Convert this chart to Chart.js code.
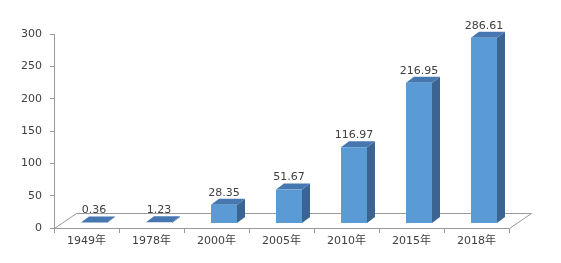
<!DOCTYPE html>
<html>
<head>
<meta charset="utf-8">
<script src="https://cdn.jsdelivr.net/npm/chart.js@4/dist/chart.umd.min.js"></script>
<style>
  html, body { margin: 0; padding: 0; background: #fff; }
  #wrap { width: 561px; height: 263px; }
</style>
</head>
<body>
<div id="wrap"><canvas id="chart" width="561" height="263"></canvas></div>
<script>
// dados
const years = ['1949年', '1978年', '2000年', '2005年', '2010年', '2015年', '2018年'];
const values = [0.36, 1.23, 28.35, 51.67, 116.97, 216.95, 286.61];
const yTicks = [0, 50, 100, 150, 200, 250, 300];

const FONT = '"DejaVu Sans", "Noto Sans CJK SC", sans-serif';
const TEXT = '#404040';
const LINE = '#9a9a9a';

// cores da barra 3D
const FRONT = '#5b9bd5';
const TOP = '#4677b0';
const SIDE = '#3b6591';

// deslocamentos de profundidade (pseudo 3D)
const FLOOR = { dx: 22, dy: -15 };
const BAR_OFF = { dx: 7, dy: -5 };
const BAR_DEPTH = { dx: 8, dy: -6 };

function poly(ctx, pts, fill, stroke) {
  ctx.beginPath();
  ctx.moveTo(pts[0][0], pts[0][1]);
  for (let i = 1; i < pts.length; i++) ctx.lineTo(pts[i][0], pts[i][1]);
  ctx.closePath();
  if (fill) { ctx.fillStyle = fill; ctx.fill(); }
  if (stroke) { ctx.strokeStyle = stroke; ctx.lineWidth = 1; ctx.stroke(); }
}

const bars3d = {
  id: 'bars3d',
  beforeDatasetsDraw(chart) {
    const { ctx, chartArea: a } = chart;
    ctx.save();
    // piso
    const l = a.left + 0.5, r = a.right + 0.5, b = a.bottom + 0.5;
    ctx.beginPath();
    ctx.moveTo(l, b);
    ctx.lineTo(l + FLOOR.dx, b + FLOOR.dy);
    ctx.lineTo(r + FLOOR.dx, b + FLOOR.dy);
    ctx.lineTo(r, b);
    ctx.strokeStyle = LINE;
    ctx.lineWidth = 1;
    ctx.stroke();
    ctx.restore();
  },
  afterDatasetsDraw(chart) {
    const { ctx } = chart;
    const meta = chart.getDatasetMeta(0);
    ctx.save();
    meta.data.forEach((bar, i) => {
      const half = bar.width / 2;
      const x0 = Math.round(bar.x - half + BAR_OFF.dx);
      const x1 = Math.round(bar.x + half + BAR_OFF.dx);
      const yb = Math.round(bar.base + BAR_OFF.dy);
      const yt = Math.min(yb - 0.5, bar.y + BAR_OFF.dy);
      const dx = BAR_DEPTH.dx, dy = BAR_DEPTH.dy;
      // lateral
      poly(ctx, [[x1, yt], [x1 + dx, yt + dy], [x1 + dx, yb + dy], [x1, yb]], SIDE);
      // topo
      poly(ctx, [[x0, yt], [x0 + dx, yt + dy], [x1 + dx, yt + dy], [x1, yt]], TOP);
      // frente
      if (yb - yt > 1) poly(ctx, [[x0, yt], [x1, yt], [x1, yb], [x0, yb]], FRONT);

      // rótulo de dados
      ctx.fillStyle = TEXT;
      ctx.font = '11px ' + FONT;
      ctx.textAlign = 'center';
      ctx.textBaseline = 'middle';
      ctx.fillText(values[i].toFixed(2), (x0 + x1) / 2, yt + dy - 6);
    });
    ctx.restore();
  }
};

new Chart(document.getElementById('chart'), {
  type: 'bar',
  data: {
    labels: years,
    datasets: [{
      data: values,
      backgroundColor: 'rgba(0,0,0,0)',
      borderWidth: 0,
      categoryPercentage: 1,
      barPercentage: 0.4
    }]
  },
  options: {
    responsive: false,
    animation: false,
    events: [],
    layout: { padding: { top: 34, right: 52, left: 0, bottom: 0 } },
    plugins: { legend: { display: false }, tooltip: { enabled: false } },
    scales: {
      x: {
        afterFit: (s) => { s.height = 35; },
        offset: true,
        grid: { display: true, drawOnChartArea: false, offset: true, tickLength: 5, color: LINE },
        border: { display: true, color: LINE },
        ticks: { color: TEXT, font: { family: FONT, size: 11 }, padding: 2, maxRotation: 0 }
      },
      y: {
        min: 0,
        max: 300,
        afterFit: (s) => { s.width = 54; },
        afterBuildTicks: (s) => { s.ticks = yTicks.map(v => ({ value: v })); },
        grid: { display: true, drawOnChartArea: false, tickLength: 4, color: LINE },
        border: { display: true, color: LINE },
        ticks: { color: TEXT, font: { family: FONT, size: 11 }, padding: 8 }
      }
    }
  },
  plugins: [bars3d]
});
</script>
</body>
</html>
